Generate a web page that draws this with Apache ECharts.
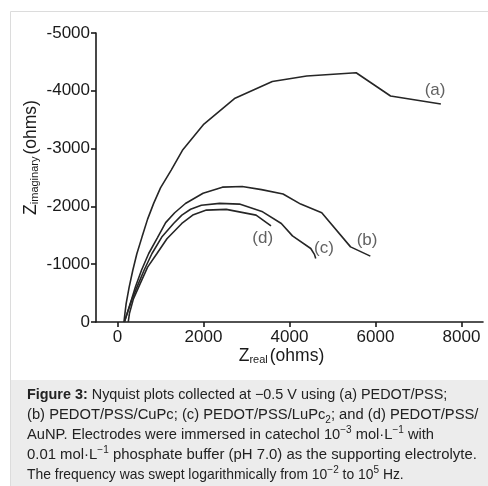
<!DOCTYPE html>
<html>
<head>
<meta charset="utf-8">
<script src="https://cdn.jsdelivr.net/npm/echarts@6/dist/echarts.min.js"></script>
<style>
html,body{margin:0;padding:0;background:#fff;}
#chart{width:488px;height:486px;}
</style>
</head>
<body>
<div id="chart"></div>
<script>
// Nyquist data: [Z_real (ohms), Z_imaginary magnitude (ohms)]
const seriesA = [[150,0],[170,130],[201,319],[270,600],[356,896],[450,1180],[571,1473],[700,1780],[841,2052],[1000,2320],[1249,2629],[1510,2970],[2010,3425],[2720,3865],[3600,4162],[4400,4255],[5550,4312],[6350,3910],[7520,3772]];
const seriesB = [[160,0],[224,146],[330,400],[416,607],[560,900],[726,1185],[930,1460],[1120,1720],[1330,1890],[1580,2050],[1990,2228],[2440,2333],[2900,2345],[3350,2290],[3850,2215],[4260,2040],[4750,1890],[5420,1300],[5880,1140]];
const seriesC = [[160,0],[224,146],[340,400],[455,607],[620,900],[802,1185],[1040,1480],[1304,1705],[1496,1850],[1700,1950],[1950,2020],[2374,2052],[2837,2040],[3376,1906],[3810,1705],[4069,1490],[4494,1272],[4580,1170],[4610,1099]];
const seriesD = [[250,0],[277,146],[370,400],[520,650],[700,950],[918,1185],[1150,1440],[1496,1705],[1750,1850],[2067,1936],[2529,1948],[3223,1849],[3570,1662]];
const seriesNames = ['(a)','(b)','(c)','(d)'];
const labelPoints = [[7385,4015],[5803,1416],[4802,1272],[3376,1445]];
const xTicks = [0,2000,4000,6000,8000];

const neg = arr => arr.map(p => [p[0], -p[1]]);
const FONT = 'Liberation Sans, Arial, sans-serif';
const INK = '#1a1a1a';
const chart = echarts.init(document.getElementById('chart'), null, {renderer:'canvas'});

const lineSeries = [seriesA, seriesB, seriesC, seriesD].map((d, i) => ({
  type: 'line', name: seriesNames[i], data: neg(d), symbol: 'none', smooth: false,
  lineStyle: {color: '#262626', width: 1.6}, silent: true, animation: false
}));

const captionLines = [
  '{b|Figure 3:} Nyquist plots collected at \u22120.5 V using (a) PEDOT/PSS;',
  '(b) PEDOT/PSS/CuPc; (c) PEDOT/PSS/LuPc{sub|2}; and (d) PEDOT/PSS/',
  'AuNP. Electrodes were immersed in catechol 10{sup|\u22123} mol\u00b7L{sup|\u22121} with',
  '0.01 mol\u00b7L{sup|\u22121} phosphate buffer (pH 7.0) as the supporting electrolyte.',
  'The frequency was swept logarithmically from 10{sup|\u22122} to 10{sup|5} Hz.'
];
const captionSizes = [14.4, 14.75, 14.7, 14.9, 13.9];

const graphics = [
  {type:'rect', shape:{x:10.5, y:11.5, width:490, height:490}, style:{fill:'#fff', stroke:'#dcdcdc', lineWidth:1}, z:-10, silent:true},
  {type:'rect', shape:{x:11, y:380, width:480, height:110}, style:{fill:'#ececec'}, z:-9, silent:true}
].concat(captionLines.map((t, i) => ({
  type:'text', left: 27, top: 385 + i*20, silent: true,
  style:{text: t, fontSize: captionSizes[i], fontFamily: FONT, fill:'#222', lineHeight: 20, rich: {
    b: {fontWeight: 'bold', fontSize: captionSizes[i], fontFamily: FONT, color: '#222', lineHeight: 20},
    sup: {fontSize: 10, fontFamily: FONT, color: '#222', verticalAlign: 'top', lineHeight: 11},
    sub: {fontSize: 10, fontFamily: FONT, color: '#222', verticalAlign: 'bottom', lineHeight: 11}
  }}
})));

const nameRich = {
  z: {fontSize: 17.5, fontFamily: FONT, color: INK},
  s: {fontSize: 11, fontFamily: FONT, color: INK, verticalAlign: 'bottom', lineHeight: 14, padding: [0, 2, 0, 0]},
  n: {fontSize: 17.5, fontFamily: FONT, color: INK}
};

chart.setOption({
  animation: false,
  backgroundColor: '#fff',
  grid: {left: 96, right: 5, top: 33, bottom: 164, containLabel: false, outerBoundsMode: 'none'},
  xAxis: {
    type: 'value', min: -500, max: 8500,
    axisLine: {onZero: false, lineStyle: {color: INK, width: 1.6}},
    axisTick: {show: true, length: 5, customValues: xTicks, lineStyle: {color: INK, width: 1.6}},
    axisLabel: {customValues: xTicks, margin: 7, fontSize: 17, fontFamily: FONT, color: INK, formatter: v => String(v)},
    splitLine: {show: false},
    name: '{z|Z}{s|real}{n|(ohms)}', nameLocation: 'middle', nameGap: 25, nameMoveOverlap: false,
    nameTextStyle: {rich: nameRich, padding: [0, 16, 0, 0]}
  },
  yAxis: {
    type: 'value', min: -5000, max: 0, interval: 1000, inverse: true,
    axisLine: {show: true, onZero: false, lineStyle: {color: INK, width: 1.6}},
    axisTick: {show: true, length: 5, lineStyle: {color: INK, width: 1.6}},
    axisLabel: {margin: 6, fontSize: 17, fontFamily: FONT, color: INK, formatter: v => (v === 0 ? '0' : '-' + Math.abs(v))},
    splitLine: {show: false},
    name: '{z|Z}{s|imaginary}{n|(ohms)}', nameLocation: 'middle', nameGap: 56, nameMoveOverlap: false,
    nameTextStyle: {rich: nameRich, padding: [0, 0, 0, 40]}
  },
  series: lineSeries.concat([{
    type: 'scatter', symbolSize: 0, silent: true,
    data: labelPoints.map((p, i) => ({value: [p[0], -p[1]], name: seriesNames[i]})),
    label: {show: true, position: 'inside', formatter: p => p.name, fontSize: 17, fontFamily: FONT, color: '#3a3a3a'}
  }]),
  graphic: graphics
});
</script>
</body>
</html>
